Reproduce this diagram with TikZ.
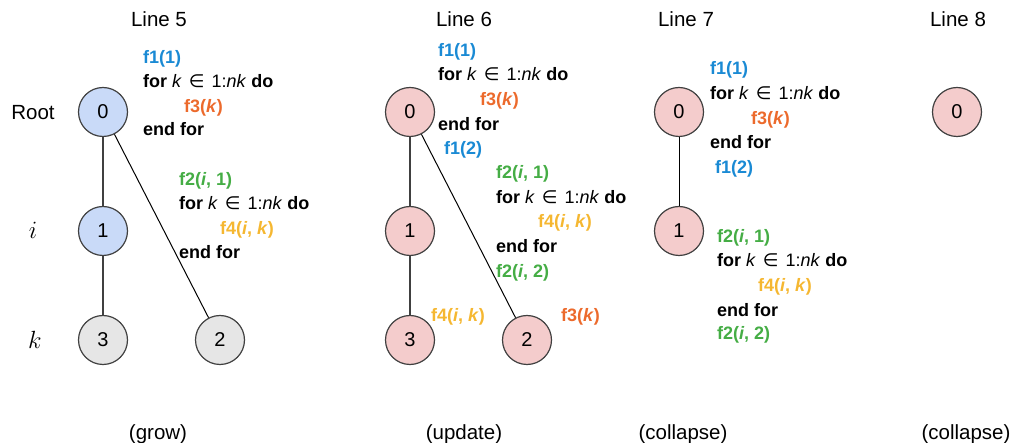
\documentclass[tikz,border=0pt]{standalone}
\usepackage{fontspec}
\setmainfont{Liberation Sans}
\newfontfamily\symfont{DejaVu Sans}
\definecolor{cblue}{HTML}{1A8AD4}
\definecolor{corange}{HTML}{EC6A2C}
\definecolor{cgreen}{HTML}{45AD45}
\definecolor{cyellow}{HTML}{F5B731}
\definecolor{fblue}{HTML}{C9DAF8}
\definecolor{fpink}{HTML}{F4CCCC}
\definecolor{fgray}{HTML}{E6E6E6}
\definecolor{edgec}{HTML}{404040}
\begin{document}
\begin{tikzpicture}[x=1pt,y=-1pt,
  tnode/.style={circle,draw=edgec,line width=1.2pt,minimum size=49pt,inner sep=0pt,font=\fontsize{20}{24}\selectfont},
  bnode/.style={tnode,fill=fblue},
  pnode/.style={tnode,fill=fpink},
  gnode/.style={tnode,fill=fgray},
  title/.style={font=\fontsize{20.5}{24}\selectfont,inner sep=0pt},
  mlab/.style={font=\fontsize{25}{28}\selectfont,inner sep=0pt},
  code/.style={anchor=base west,inner sep=0pt,font=\fontsize{18}{22}\selectfont\bfseries},
  vedge/.style={draw=edgec,line width=1.5pt},
  dedge/.style={draw=black,line width=1pt}]
\useasboundingbox (0,0) rectangle (1012,443);
\newcommand{\forline}{for \textmd{\textit{k}\hspace{2pt} {\symfont\mdseries ∈}\hspace{2pt} 1:\textit{nk}} do}
% titles
\node[title] (t5) at (159,19) {Line 5};
\node[title] (t6) at (464,19) {Line 6};
\node[title] (t7) at (686,19) {Line 7};
\node[title] (t8) at (958,19) {Line 8};
\node[title] (b5) at (158,434) {(grow)};
\node[title] (b6) at (464,434) {(update)};
\node[title] (b7) at (683,434) {(collapse)};
\node[title] (b8) at (966,434) {(collapse)};
% left labels
\node[title] (root) at (33,113) {Root};
\node[mlab] (li) at (33,230) {$i$};
\node[mlab] (lk) at (35,340) {$k$};
% panel 1
\node[bnode] (a0) at (103,112) {0};
\node[bnode] (a1) at (103,231) {1};
\node[gnode] (a3) at (103,340) {3};
\node[gnode] (a2) at (220,340) {2};
\draw[vedge] (a0) -- (a1);
\draw[vedge] (a1) -- (a3);
\draw[dedge] (a0) -- (a2);
\node[code,text=cblue] (a-c1) at (143,63.5) {f1(1)};
\node[code] (a-c2) at (143,87.5) {\forline};
\node[code,text=corange] (a-c3) at (184,112.5) {f3(\textit{k})};
\node[code] (a-c4) at (143,135.5) {end for};
\node[code,text=cgreen] (a-c5) at (179,185.5) {f2(\textit{i}, 1)};
\node[code] (a-c6) at (179,209.5) {\forline};
\node[code,text=cyellow] (a-c7) at (220,234.5) {f4(\textit{i}, \textit{k})};
\node[code] (a-c8) at (179,258.5) {end for};
% panel 2
\node[pnode] (b0) at (410,112) {0};
\node[pnode] (b1) at (410,231) {1};
\node[pnode] (b3) at (410,340) {3};
\node[pnode] (b2) at (527,340) {2};
\draw[vedge] (b0) -- (b1);
\draw[vedge] (b1) -- (b3);
\draw[dedge] (b0) -- (b2);
\node[code,text=cblue] (b-c1) at (438,56.5) {f1(1)};
\node[code] (b-c2) at (438,80.5) {\forline};
\node[code,text=corange] (b-c3) at (480,105.5) {f3(\textit{k})};
\node[code] (b-c4) at (438,130.5) {end for};
\node[code,text=cblue] (b-c5) at (444,154.5) {f1(2)};
\node[code,text=cgreen] (b-c6) at (496,178.5) {f2(\textit{i}, 1)};
\node[code] (b-c7) at (496,203.5) {\forline};
\node[code,text=cyellow] (b-c8) at (538,227.5) {f4(\textit{i}, \textit{k})};
\node[code] (b-c9) at (496,252.5) {end for};
\node[code,text=cgreen] (b-c10) at (496,277.5) {f2(\textit{i}, 2)};
\node[code,text=cyellow] (b-c11) at (431,321.5) {f4(\textit{i}, \textit{k})};
\node[code,text=corange] (b-c12) at (561,321.5) {f3(\textit{k})};
% panel 3
\node[pnode] (c0) at (679,112) {0};
\node[pnode] (c1) at (679,231) {1};
\draw[dedge] (c0) -- (c1);
\node[code,text=cblue] (c-c1) at (710,74.5) {f1(1)};
\node[code] (c-c2) at (710,99.5) {\forline};
\node[code,text=corange] (c-c3) at (751,124.5) {f3(\textit{k})};
\node[code] (c-c4) at (710,148.5) {end for};
\node[code,text=cblue] (c-c5) at (715,173.5) {f1(2)};
\node[code,text=cgreen] (c-c6) at (717,242.5) {f2(\textit{i}, 1)};
\node[code] (c-c7) at (717,266.5) {\forline};
\node[code,text=cyellow] (c-c8) at (758,291.5) {f4(\textit{i}, \textit{k})};
\node[code] (c-c9) at (717,316.5) {end for};
\node[code,text=cgreen] (c-c10) at (717,339.5) {f2(\textit{i}, 2)};
% panel 4
\node[pnode] (d0) at (957,112) {0};
\end{tikzpicture}
\end{document}
